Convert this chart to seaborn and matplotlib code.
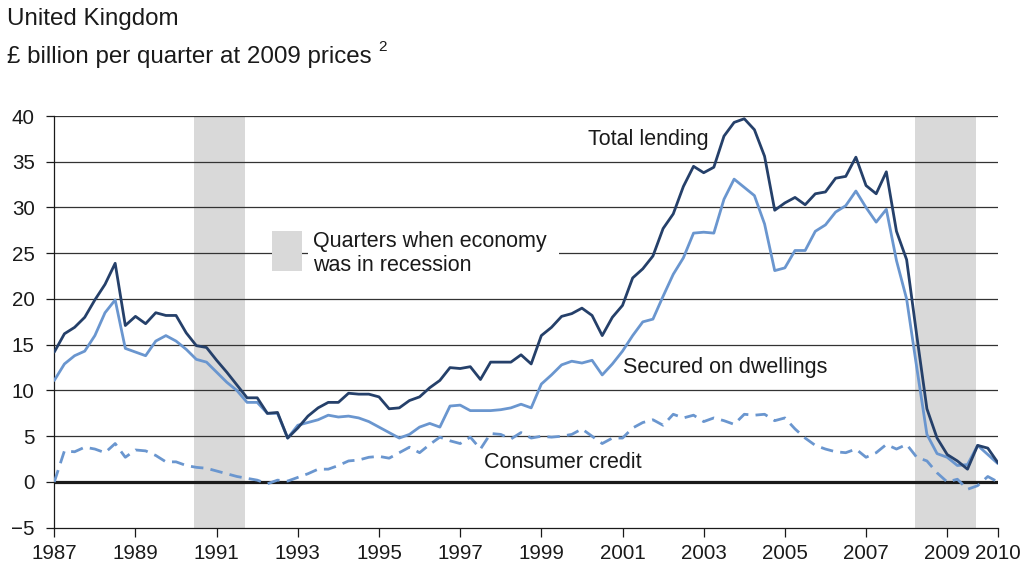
import numpy as np
import pandas as pd
import seaborn as sns
import matplotlib.pyplot as plt
from matplotlib.patches import Rectangle

# Quarterly data, 1987 Q1 to 2010 Q2 (£ billion per quarter, 2009 prices)
quarters = [f"{y} Q{q}" for y in range(1987, 2011) for q in range(1, 5)][:94]

total_lending = [
    14.2, 16.2, 16.9, 18.0, 19.9, 21.6, 23.9, 17.1, 18.1, 17.3,
    18.5, 18.2, 18.2, 16.3, 14.9, 14.7, 13.3, 12.0, 10.6, 9.2,
    9.2, 7.5, 7.6, 4.8, 5.9, 7.2, 8.1, 8.7, 8.7, 9.7,
    9.6, 9.6, 9.3, 8.0, 8.1, 8.9, 9.3, 10.3, 11.1, 12.5,
    12.4, 12.6, 11.2, 13.1, 13.1, 13.1, 13.9, 12.9, 16.0, 16.9,
    18.1, 18.4, 19.0, 18.2, 16.0, 18.0, 19.3, 22.3, 23.3, 24.7,
    27.7, 29.3, 32.3, 34.5, 33.8, 34.4, 37.8, 39.3, 39.7, 38.5,
    35.6, 29.7, 30.5, 31.1, 30.3, 31.5, 31.7, 33.2, 33.4, 35.5,
    32.4, 31.5, 33.9, 27.4, 24.3, 16.0, 8.0, 4.8, 3.0, 2.3,
    1.4, 4.0, 3.7, 2.1,
]

secured_on_dwellings = [
    11.1, 12.9, 13.8, 14.3, 16.0, 18.5, 19.9, 14.6, 14.2, 13.8,
    15.4, 16.0, 15.4, 14.5, 13.4, 13.1, 12.0, 10.9, 10.0, 8.7,
    8.7, 7.5, 7.5, 4.8, 6.2, 6.5, 6.8, 7.3, 7.1, 7.2,
    7.0, 6.6, 6.0, 5.4, 4.8, 5.2, 6.0, 6.4, 6.0, 8.3,
    8.4, 7.8, 7.8, 7.8, 7.9, 8.1, 8.5, 8.1, 10.7, 11.7,
    12.8, 13.2, 13.0, 13.3, 11.7, 12.9, 14.3, 16.0, 17.5, 17.8,
    20.3, 22.7, 24.5, 27.2, 27.3, 27.2, 30.9, 33.1, 32.2, 31.3,
    28.2, 23.1, 23.4, 25.3, 25.3, 27.4, 28.1, 29.5, 30.2, 31.8,
    30.0, 28.4, 29.8, 24.2, 20.0, 12.5, 5.2, 3.1, 2.7, 1.8,
    1.9, 4.0, 3.0, 2.0,
]

consumer_credit = [
    0.0, 3.4, 3.3, 3.8, 3.6, 3.2, 4.2, 2.7, 3.5, 3.4,
    2.9, 2.2, 2.2, 1.8, 1.6, 1.5, 1.2, 0.9, 0.6, 0.4,
    0.2, -0.2, 0.2, 0.1, 0.5, 0.9, 1.4, 1.4, 1.8, 2.3,
    2.4, 2.7, 2.8, 2.6, 3.2, 3.8, 3.2, 4.1, 4.9, 4.5,
    4.2, 4.9, 3.6, 5.3, 5.2, 4.7, 5.4, 4.8, 5.0, 4.9,
    5.0, 5.2, 5.8, 5.0, 4.2, 4.8, 4.8, 5.9, 6.5, 6.8,
    6.2, 7.4, 7.0, 7.3, 6.6, 7.0, 6.7, 6.3, 7.4, 7.3,
    7.4, 6.7, 7.0, 5.8, 4.8, 4.0, 3.6, 3.3, 3.2, 3.6,
    2.7, 3.2, 4.1, 3.6, 4.1, 2.7, 2.3, 1.0, 0.0, 0.3,
    -0.8, -0.4, 0.6, 0.0,
]

recessions = [("1990 Q3", "1991 Q3"), ("2008 Q2", "2009 Q3")]

tick_years = ["1987", "1989", "1991", "1993", "1995", "1997", "1999",
              "2001", "2003", "2005", "2007", "2009", "2010"]


def qpos(label):
    y, q = label.split(" Q")
    return int(y) + (int(q) - 1) / 4


df = pd.DataFrame({
    "x": [qpos(q) for q in quarters],
    "total": total_lending,
    "secured": secured_on_dwellings,
    "consumer": consumer_credit,
})

dark = "#25406a"
light = "#6a96cf"

sns.set_style("white")
plt.rcParams["font.family"] = ["Liberation Sans", "DejaVu Sans"]

fig = plt.figure(figsize=(10.32, 5.72), dpi=100)
ax = fig.add_axes([0.0526, 0.0774, 0.9144, 0.7198])

# recession shading
for a, b in recessions:
    ax.axvspan(qpos(a) - 0.05, qpos(b) + 0.2, color="#d9d9d9", lw=0, zorder=0)

# horizontal gridlines
for v in range(5, 45, 5):
    ax.axhline(v, color="#333333", lw=0.9, zorder=1)
ax.axhline(0, color="#1a1a1a", lw=2.3, zorder=2)

sns.lineplot(data=df, x="x", y="consumer", ax=ax, color=light, lw=2.0,
             linestyle=(0, (4.5, 2.6)), zorder=3)
sns.lineplot(data=df, x="x", y="secured", ax=ax, color=light, lw=2.0, zorder=4)
sns.lineplot(data=df, x="x", y="total", ax=ax, color=dark, lw=2.0, zorder=5)

x_end = df["x"].iloc[-1]
ax.set_xlim(1987, x_end)
ax.set_ylim(-5, 40)
ax.set_yticks(range(-5, 45, 5))
xt = [float(t) for t in tick_years[:-1]] + [x_end]
ax.set_xticks(xt)
ax.set_xticklabels(tick_years)
ax.set_xlabel("")
ax.set_ylabel("")

ax.tick_params(axis="y", direction="out", length=6, width=0.9, pad=8,
               labelsize=14.8, colors="#1a1a1a", left=True)
ax.tick_params(axis="x", direction="out", length=6.5, width=0.9, pad=5,
               labelsize=14.8, colors="#1a1a1a", bottom=True)
for s in ["top", "right"]:
    ax.spines[s].set_visible(False)
for s in ["left", "bottom"]:
    ax.spines[s].set_color("#1a1a1a")
    ax.spines[s].set_linewidth(0.9)

# legend for recession shading
ax.add_patch(Rectangle((1993.24, 22.5), 6.2, 5.3, facecolor="white",
                       edgecolor="none", zorder=2.5))
ax.add_patch(Rectangle((1992.37, 23.1), 0.73, 4.3, facecolor="#d9d9d9",
                       edgecolor="none", zorder=2.6))
ax.text(1993.37, 25.7, "Quarters when economy", fontsize=15.5,
        color="#1a1a1a", va="baseline", zorder=6)
ax.text(1993.37, 23.1, "was in recession", fontsize=15.5,
        color="#1a1a1a", va="baseline", zorder=6)

# series labels
ax.text(2000.15, 36.8, "Total lending", fontsize=15.5, color="#1a1a1a",
        va="baseline", zorder=6)
ax.text(2001.0, 11.9, "Secured on dwellings", fontsize=15.5, color="#1a1a1a",
        va="baseline", zorder=6)
ax.text(1997.58, 1.5, "Consumer credit", fontsize=15.5, color="#1a1a1a",
        va="baseline", zorder=6)

# header
fig.text(7 / 1032, 1 - 25 / 572, "United Kingdom", fontsize=17.4,
         color="#1a1a1a", va="baseline")
fig.text(7 / 1032, 1 - 63 / 572, "£ billion per quarter at 2009 prices",
         fontsize=17.4, color="#1a1a1a", va="baseline")
fig.text(378 / 1032, 1 - 51 / 572, "2", fontsize=11, color="#1a1a1a",
         va="baseline")

fig.savefig("out.png", dpi=100)
plt.close(fig)
